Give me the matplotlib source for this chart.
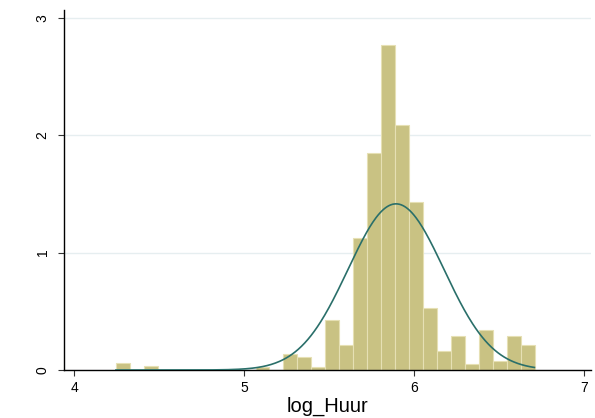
#!/usr/bin/env python3
import matplotlib
matplotlib.use('Agg')
import matplotlib.pyplot as plt
import numpy as np
# .................................................. histogram data
bin_start=4.244
bin_width=0.0822
density=[0.057,0.0,0.034,0.0,0.0,0.0,0.0,0.0,0.0,0.0,
         0.028,0.0,0.136,0.108,0.028,0.425,0.213,1.12,1.85,2.77,
         2.085,1.427,0.528,0.162,0.289,0.051,0.34,0.079,0.289,0.210]
# .................................................. normal overlay
mu=5.893
sigma=0.282
x_min=4.244
x_max=6.708
xticks=[4,5,6,7]
yticks=[0,1,2,3]
plt.rcParams['font.family']=['Liberation Sans','DejaVu Sans']
fig=plt.figure(figsize=(5.95,4.18),dpi=100)
ax=fig.add_axes([0.108,0.1148,0.885,0.861])
# ....................................................... bars
lefts=bin_start+bin_width*np.arange(len(density))
ax.bar(lefts,density,width=bin_width,align='edge',
       color='#c9c283',edgecolor='#e6e0b4',linewidth=0.8,zorder=2)
# ....................................................... curve
xs=np.linspace(x_min,x_max,400)
ys=np.exp(-0.5*((xs-mu)/sigma)**2)/(sigma*np.sqrt(2*np.pi))
ax.plot(xs,ys,color='#2a6f6a',linewidth=1.2,zorder=3)
# ....................................................... axes
ax.set_xlim(3.94,7.04)
ax.set_ylim(0,3.064)
ax.set_xticks(xticks)
ax.set_yticks(yticks)
ax.set_yticklabels([str(t) for t in yticks],rotation=90,va='center')
ax.tick_params(direction='out',length=4.5,width=0.8,labelsize=10,color='#333333')
ax.tick_params(axis='y',pad=6)
ax.grid(axis='y',color='#e6eef0',linewidth=1.0,zorder=0)
ax.set_axisbelow(True)
for s in ['top','right']:
  ax.spines[s].set_visible(False)
for s in ['left','bottom']:
  ax.spines[s].set_linewidth(1.0)
ax.set_xlabel('log_Huur',fontsize=14.5,labelpad=1)
# ....................................................................
fig.savefig('out.png',dpi=100)
